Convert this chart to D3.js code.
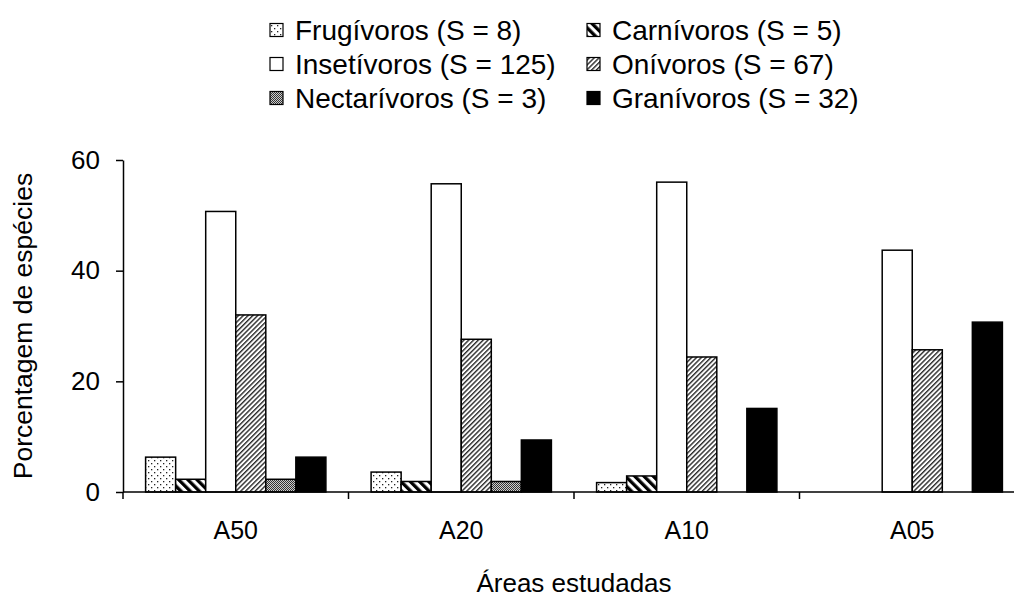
<!DOCTYPE html>
<html>
<head>
<meta charset="utf-8">
<script src="https://cdn.jsdelivr.net/npm/d3@7"></script>
<style>
  html, body { margin: 0; padding: 0; background: #fff; }
  svg { display: block; font-family: "Liberation Sans", Arial, sans-serif; }
</style>
</head>
<body>
<svg id="chart" width="1014" height="607"></svg>
<script>
// ---- data ----
const categories = ["A50", "A20", "A10", "A05"];
const seriesNames = ["Frugívoros", "Carnívoros", "Insetívoros", "Onívoros", "Nectarívoros", "Granívoros"];
const seriesS = [8, 5, 125, 67, 3, 32];
const frugivoros   = [6.3, 3.6, 1.7, 0];
const carnivoros   = [2.3, 1.9, 2.9, 0];
const insetivoros  = [50.7, 55.7, 56.0, 43.7];
const onivoros     = [32.0, 27.6, 24.4, 25.7];
const nectarivoros = [2.3, 1.9, 0, 0];
const granivoros   = [6.3, 9.4, 15.1, 30.7];
const yTicks = [0, 20, 40, 60];
const yTitle = "Porcentagem de espécies";
const xTitle = "Áreas estudadas";

const seriesValues = [frugivoros, carnivoros, insetivoros, onivoros, nectarivoros, granivoros];
const fills = ["url(#pDots)", "url(#pWide)", "#fff", "url(#pThin)", "url(#pCheck)", "#000"];

// ---- layout ----
const svg = d3.select("#chart");
const x0 = 123, band = 225.5, yTop = 160, yBot = 492;
const x = d3.scaleBand().domain(categories).range([x0, x0 + band * categories.length]).padding(0);
const xs = d3.scaleBand().domain(seriesNames.map((d, i) => i)).range([22.6, band - 22.6]).padding(0);
const y = d3.scaleLinear().domain([0, 60]).range([yBot, yTop]);

// ---- patterns ----
const defs = svg.append("defs");
const pd = defs.append("pattern").attr("id", "pDots").attr("patternUnits", "userSpaceOnUse")
  .attr("width", 6).attr("height", 6);
pd.append("rect").attr("width", 6).attr("height", 6).attr("fill", "#fff");
pd.append("rect").attr("x", 1).attr("y", 1).attr("width", 1.3).attr("height", 1.3).attr("fill", "#222");
pd.append("rect").attr("x", 4).attr("y", 4).attr("width", 1.3).attr("height", 1.3).attr("fill", "#222");

const pw = defs.append("pattern").attr("id", "pWide").attr("patternUnits", "userSpaceOnUse")
  .attr("width", 6.5).attr("height", 6.5).attr("patternTransform", "rotate(-45)");
pw.append("rect").attr("width", 6.5).attr("height", 6.5).attr("fill", "#fff");
pw.append("rect").attr("width", 3.3).attr("height", 6.5).attr("fill", "#000");

const pt = defs.append("pattern").attr("id", "pThin").attr("patternUnits", "userSpaceOnUse")
  .attr("width", 3.4).attr("height", 4).attr("patternTransform", "rotate(45)");
pt.append("rect").attr("width", 3.4).attr("height", 4).attr("fill", "#fff");
pt.append("rect").attr("width", 1.4).attr("height", 4).attr("fill", "#2a2a2a");

const pc = defs.append("pattern").attr("id", "pCheck").attr("patternUnits", "userSpaceOnUse")
  .attr("width", 2).attr("height", 2);
pc.append("rect").attr("width", 2).attr("height", 2).attr("fill", "#ccc");
pc.append("rect").attr("width", 1).attr("height", 1).attr("fill", "#333");
pc.append("rect").attr("x", 1).attr("y", 1).attr("width", 1).attr("height", 1).attr("fill", "#333");

// ---- bars ----
const bars = [];
categories.forEach((c, ci) => {
  seriesValues.forEach((vals, si) => {
    if (vals[ci] > 0) bars.push({ c, si, v: vals[ci] });
  });
});
svg.append("g").selectAll("rect").data(bars).join("rect")
  .attr("x", d => x(d.c) + xs(d.si))
  .attr("y", d => y(d.v))
  .attr("width", xs.bandwidth())
  .attr("height", d => y(0) - y(d.v))
  .attr("fill", d => fills[d.si])
  .attr("stroke", "#000").attr("stroke-width", 1.5);

// ---- axes ----
const yAxis = d3.axisLeft(y).tickValues(yTicks).tickSize(7).tickPadding(16).tickSizeOuter(0);
const gy = svg.append("g").attr("transform", `translate(${x0},0)`).call(yAxis);
gy.selectAll("text").attr("font-size", 26).attr("fill", "#000").attr("font-family", "Liberation Sans, Arial, sans-serif");
gy.selectAll("line, path").attr("stroke", "#000").attr("stroke-width", 1.5);

// x axis: line + boundary ticks
const gx = svg.append("g");
gx.append("line").attr("x1", x0).attr("x2", 1014).attr("y1", yBot).attr("y2", yBot)
  .attr("stroke", "#000").attr("stroke-width", 1.5);
const boundaries = categories.map(c => x(c));
gx.selectAll("line.tick").data(boundaries).join("line").attr("class", "tick")
  .attr("x1", d => d).attr("x2", d => d).attr("y1", yBot).attr("y2", yBot + 7)
  .attr("stroke", "#000").attr("stroke-width", 1.5);
gx.selectAll("text").data(categories).join("text")
  .attr("x", d => x(d) + x.bandwidth() / 2).attr("y", 539)
  .attr("text-anchor", "middle").attr("font-size", 25).text(d => d);

// titles
svg.append("text").attr("x", x0 + band * 2).attr("y", 592).attr("text-anchor", "middle")
  .attr("font-size", 26).text(xTitle);
svg.append("text").attr("transform", `translate(32,${(yTop + yBot) / 2}) rotate(-90)`)
  .attr("text-anchor", "middle").attr("font-size", 26.5).text(yTitle);

// ---- legend ----
const legendCols = [270, 587];
const legendRows = [30, 64, 98];
const leg = svg.append("g").selectAll("g").data(seriesNames).join("g")
  .attr("transform", (d, i) => `translate(${legendCols[i % 2]},${legendRows[Math.floor(i / 2)]})`);
leg.append("rect").attr("x", 0).attr("y", -6.5).attr("width", 13).attr("height", 13)
  .attr("fill", (d, i) => fills[i]).attr("stroke", "#000").attr("stroke-width", 1.2);
leg.append("text").attr("x", 25).attr("y", 10).attr("font-size", 28)
  .text((d, i) => `${d} (S = ${seriesS[i]})`);
</script>
</body>
</html>
